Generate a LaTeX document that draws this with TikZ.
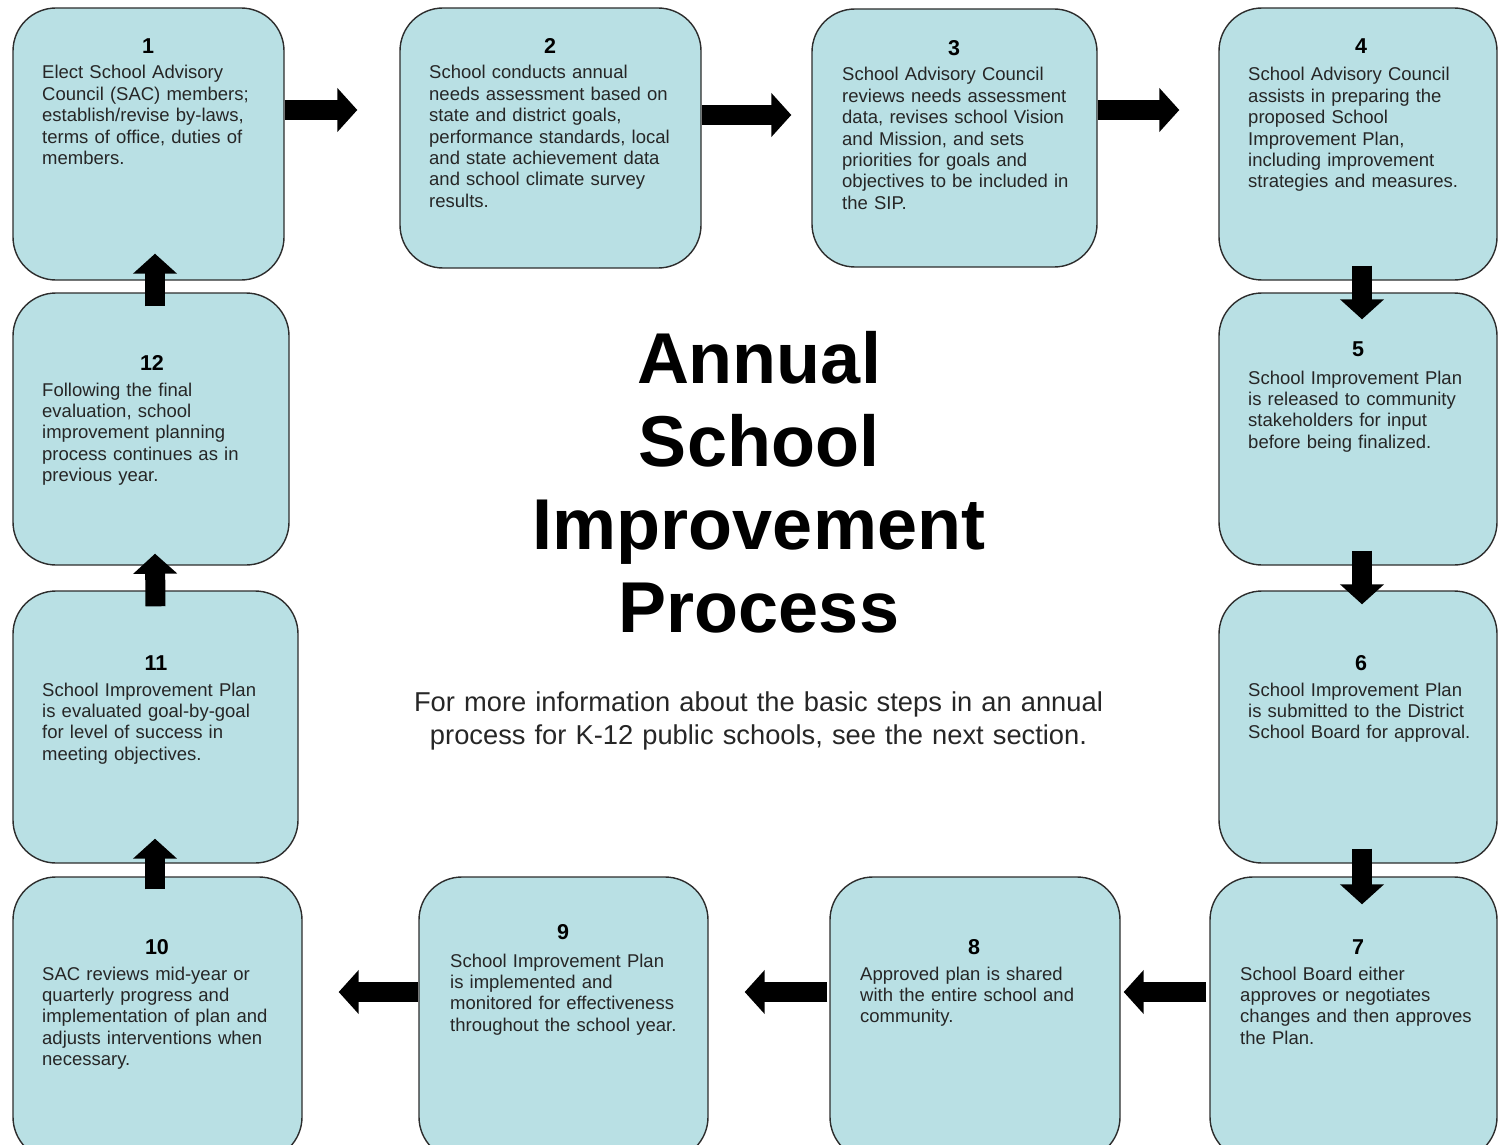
\documentclass[tikz,border=0pt]{standalone}
\usepackage{fontspec}
\setmainfont{Liberation Sans}
\usetikzlibrary{arrows.meta}
\definecolor{boxfill}{RGB}{185,224,228}
\definecolor{boxline}{RGB}{45,45,45}
\tikzset{
  stepbox/.style={draw=boxline, line width=1.4pt, fill=boxfill, rounded corners=43pt, inner sep=0pt},
  num/.style={font=\bfseries\fontsize{21.5}{21.5}\selectfont, anchor=base, inner sep=0pt},
  body/.style={font=\fontsize{18.5}{21.4}\selectfont, anchor=base west, inner sep=0pt, text width=330pt, align=left, text=black!85},
  fat/.style={line width=20pt, black, -{Triangle[width=43pt,length=20pt]}},
}
\begin{document}
\begin{tikzpicture}[x=1pt,y=-1pt]
\useasboundingbox (0,0) rectangle (1499,1145);
\clip (0,0) rectangle (1499,1145);
% boxes
\node[stepbox, minimum width=271pt, minimum height=272pt] (b1) at (148.5,144) {};
\node[stepbox, minimum width=301pt, minimum height=260pt] (b2) at (550.5,138) {};
\node[stepbox, minimum width=285pt, minimum height=258pt] (b3) at (954.5,138) {};
\node[stepbox, minimum width=278pt, minimum height=272pt] (b4) at (1358,144) {};
\node[stepbox, minimum width=278pt, minimum height=272pt] (b5) at (1358,429) {};
\node[stepbox, minimum width=278pt, minimum height=272pt] (b6) at (1358,727) {};
\node[stepbox, minimum width=287pt, minimum height=283pt] (b7) at (1353.5,1018.5) {};
\node[stepbox, minimum width=290pt, minimum height=283pt] (b8) at (975,1018.5) {};
\node[stepbox, minimum width=289pt, minimum height=283pt] (b9) at (563.5,1018.5) {};
\node[stepbox, minimum width=289pt, minimum height=283pt] (b10) at (157.5,1018.5) {};
\node[stepbox, minimum width=285pt, minimum height=272pt] (b11) at (155.5,727) {};
\node[stepbox, minimum width=276pt, minimum height=272pt] (b12) at (151,429) {};
% numbers
\node[num] (n1) at (148,53.5) {1};
\node[num] (n2) at (550,53.5) {2};
\node[num] (n3) at (954,55.5) {3};
\node[num] (n4) at (1361,53.5) {4};
\node[num] (n5) at (1358,356.5) {5};
\node[num] (n6) at (1361,670.5) {6};
\node[num] (n7) at (1358,954.5) {7};
\node[num] (n8) at (974,954.5) {8};
\node[num] (n9) at (563,939.5) {9};
\node[num] (n10) at (157,954.5) {10};
\node[num] (n11) at (156,670.5) {11};
\node[num] (n12) at (152,370.5) {12};
% texts
\node[body] (t1) at (42,79) {Elect School Advisory\\Council (SAC) members;\\establish/revise by-laws,\\terms of office, duties of\\members.};
\node[body] (t2) at (429,79) {School conducts annual\\needs assessment based on\\state and district goals,\\performance standards, local\\and state achievement data\\and school climate survey\\results.};
\node[body] (t3) at (842,81) {School Advisory Council\\reviews needs assessment\\data, revises school Vision\\and Mission, and sets\\priorities for goals and\\objectives to be included in\\the SIP.};
\node[body] (t4) at (1248,81) {School Advisory Council\\assists in preparing the\\proposed School\\Improvement Plan,\\including improvement\\strategies and measures.};
\node[body] (t5) at (1248,384) {School Improvement Plan\\is released to community\\stakeholders for input\\before being finalized.};
\node[body] (t6) at (1248,696) {School Improvement Plan\\is submitted to the District\\School Board for approval.};
\node[body] (t7) at (1240,980) {School Board either\\approves or negotiates\\changes and then approves\\the Plan.};
\node[body] (t8) at (860,980) {Approved plan is shared\\with the entire school and\\community.};
\node[body] (t9) at (450,967) {School Improvement Plan\\is implemented and\\monitored for effectiveness\\throughout the school year.};
\node[body] (t10) at (42,980) {SAC reviews mid-year or\\quarterly progress and\\implementation of plan and\\adjusts interventions when\\necessary.};
\node[body] (t11) at (42,696) {School Improvement Plan\\is evaluated goal-by-goal\\for level of success in\\meeting objectives.};
\node[body] (t12) at (42,396) {Following the final\\evaluation, school\\improvement planning\\process continues as in\\previous year.};
% title
\node[font=\bfseries\fontsize{72}{83}\selectfont, anchor=base, inner sep=0pt, text width=700pt, align=center] (title) at (759,383) {Annual\\School\\Improvement\\Process};
\node[font=\fontsize{27.3}{33}\selectfont, anchor=base, inner sep=0pt, text width=760pt, align=center, text=black!85] (sub) at (758.5,711) {For more information about the basic steps in an annual\\process for K-12 public schools, see the next section.};
% arrows
\draw[fat] ([yshift=34pt]b1.east) -- ([xshift=-42pt,yshift=28pt]b2.west);
\draw[fat] ([yshift=23pt]b2.east) -- ([xshift=-20pt,yshift=23pt]b3.west);
\draw[fat] ([yshift=28pt]b3.east) -- ([xshift=-39pt,yshift=34pt]b4.west);
\draw[fat] ([xshift=4pt,yshift=15pt]b4.south) -- ([xshift=4pt,yshift=-27pt]b5.north);
\draw[fat] ([xshift=4pt,yshift=15pt]b5.south) -- ([xshift=4pt,yshift=-14pt]b6.north);
\draw[fat] ([xshift=4pt,yshift=15pt]b6.south) -- ([xshift=8.5pt,yshift=-28pt]b7.north);
\draw[fat] ([xshift=-3pt,yshift=26.5pt]b7.west) -- ([xshift=3pt,yshift=26.5pt]b8.east);
\draw[fat] ([xshift=-2pt,yshift=26.5pt]b8.west) -- ([xshift=36pt,yshift=26.5pt]b9.east);
\draw[fat] ([yshift=26.5pt]b9.west) -- ([xshift=36pt,yshift=26.5pt]b10.east);
\draw[fat] ([xshift=-2.5pt,yshift=-13pt]b10.north) -- ([xshift=-0.5pt,yshift=25pt]b11.south);
\draw[fat] ([yshift=-16pt]b11.north) -- ([xshift=4pt,yshift=12pt]b12.south);
\draw[fat] ([xshift=4pt,yshift=-14pt]b12.north) -- ([xshift=6.5pt,yshift=27pt]b1.south);
\end{tikzpicture}
\end{document}
